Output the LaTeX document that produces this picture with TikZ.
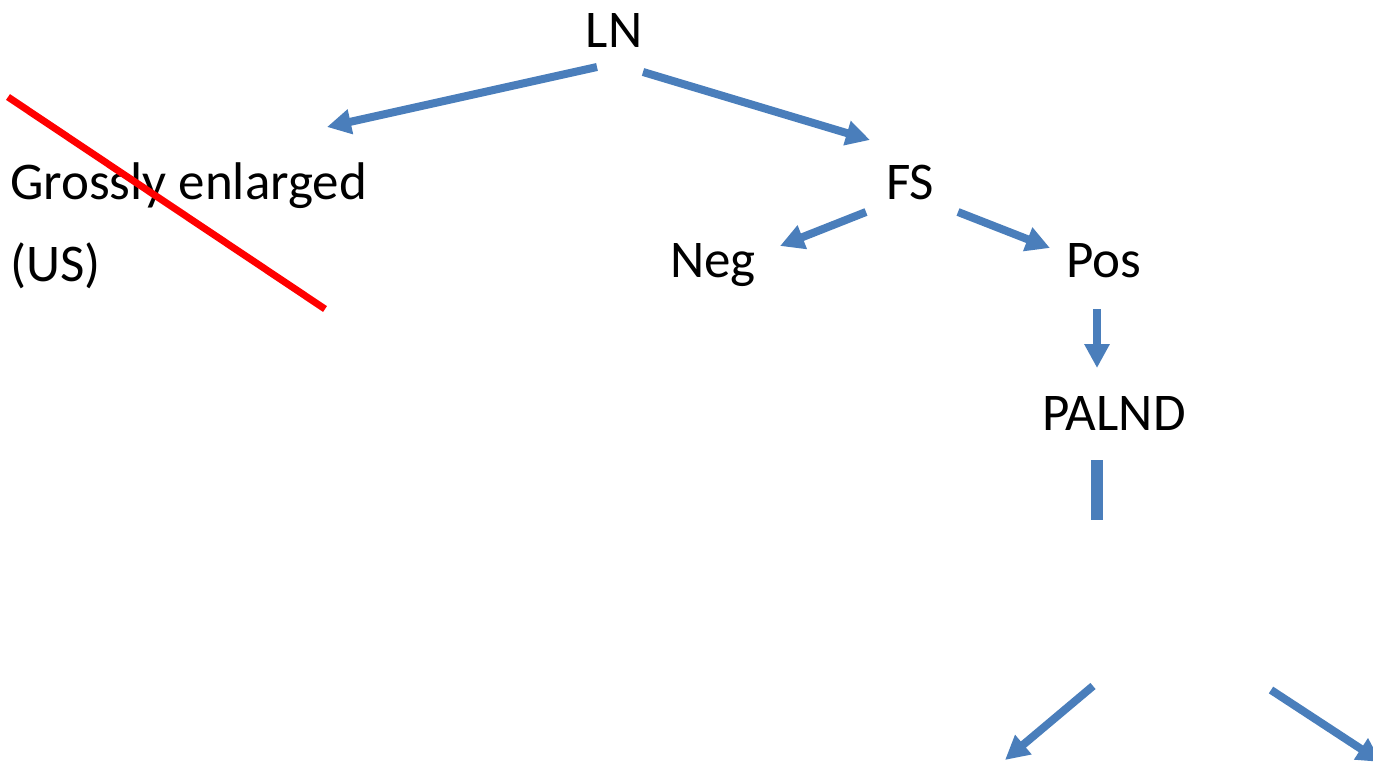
\documentclass[tikz,border=0pt]{standalone}
\usepackage{fontspec}
\setmainfont{Carlito}
\usetikzlibrary{arrows.meta}
\definecolor{pfeilblau}{RGB}{74,126,187}
\definecolor{rot}{RGB}{255,0,0}

\begin{document}
\begin{tikzpicture}[x=1pt, y=-1pt,
  txt/.style={inner sep=0pt, font=\fontsize{53}{64}\selectfont},
  pfeil/.style={pfeilblau, line width=8pt, -{Triangle[length=24pt,width=24pt]}},
  balken/.style={pfeilblau, line width=12pt},
  streich/.style={rot, line width=7pt}]

% Rahmen (Bildgroesse)
\useasboundingbox (0,0) rectangle (1373,765);
\clip (0,0) rectangle (1373,765);

% Knoten
\node[txt, anchor=base] (LN) at (614,48) {LN};
\node[txt, anchor=base west] (GE) at (10,199) {Grossly enlarged};
\node[txt, anchor=base west] (US) at (10,281) {(US)};
\node[txt, anchor=base] (FS) at (910,199) {FS};
\node[txt, anchor=base] (Neg) at (713,277) {Neg};
\node[txt, anchor=base] (Pos) at (1104,277) {Pos};
\node[txt, anchor=base] (PALND) at (1114,430) {PALND};

% Pfeilenden
\coordinate (LNl) at (597,67);
\coordinate (GEe) at (327,127);
\coordinate (LNr) at (643,72);
\coordinate (FSe) at (870,140);
\coordinate (FSl) at (866,212);
\coordinate (Nege) at (780,246);
\coordinate (FSr) at (958,212);
\coordinate (Pose) at (1050,248);
\coordinate (Poss) at (1097,309);
\coordinate (PAe) at (1097,368);
\coordinate (PAo) at (1097,460);
\coordinate (PAu) at (1097,520);
\coordinate (Ul) at (1093,686);
\coordinate (Ule) at (1005,760);
\coordinate (Ur) at (1271,690);
\coordinate (Ure) at (1381,762);

% Pfeile
\draw[pfeil] (LNl) -- (GEe);
\draw[pfeil] (LNr) -- (FSe);
\draw[pfeil] (FSl) -- (Nege);
\draw[pfeil] (FSr) -- (Pose);
\draw[pfeil] (Poss) -- (PAe);
\draw[balken] (PAo) -- (PAu);
\draw[pfeil] (Ul) -- (Ule);
\draw[pfeil] (Ur) -- (Ure);

% Durchstreichen
\coordinate (So) at (8,97);
\coordinate (Su) at (325,309);
\draw[streich] (So) -- (Su);
\end{tikzpicture}
\end{document}
